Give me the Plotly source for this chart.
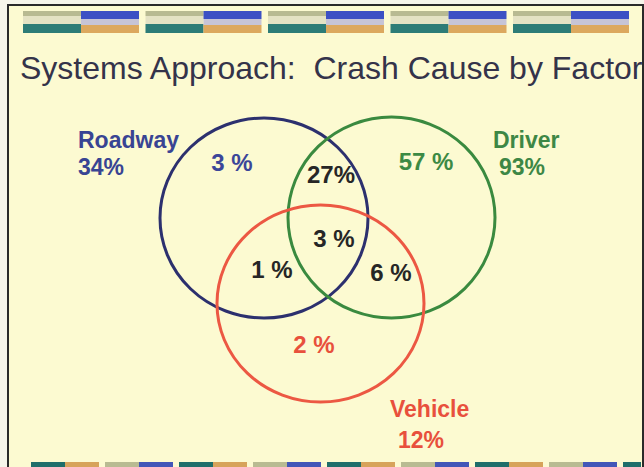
import plotly.graph_objects as go

# ---------------- data ----------------
set_names = ["Roadway", "Driver", "Vehicle"]
set_totals = [34, 93, 12]
region_names = ["Roadway only", "Driver only", "Vehicle only",
                "Roadway & Driver", "Roadway & Vehicle", "Driver & Vehicle", "All three"]
region_values = [3, 57, 2, 27, 1, 6, 3]
region_text = ["3 %", "57 %", "2 %", "27%", "1 %", "6 %", "3 %"]
title_text = "Systems Approach:\u00a0 Crash Cause by Factor"

# ---------------- layout / style (pixel space) ----------------
W, H = 644, 467
FONT = "Liberation Sans, Arial, sans-serif"
BG = "#FCFAD1"

set_colors = ["#2C306E", "#3A8A3F", "#EC5843"]
set_text_colors = ["#384493", "#3D8745", "#E8503C"]
circle_boxes = [(160, 118, 368, 318), (288, 117, 495, 318), (217, 205, 424, 402)]
set_label_pos = [((76, 140), (76, 167)), ((491, 140), (497, 167)), ((388, 409), (396, 440))]

region_pos_x = [232, 426, 314, 331, 272, 391, 334]
region_pos_y = [165, 164, 347, 177, 272, 275, 241]
region_colors = ["#3B4699", "#3C8A44", "#E8503C", "#262626", "#262626", "#262626", "#262626"]

fig = go.Figure()

shapes = []
# slide background + frame
shapes.append(dict(type="rect", xref="x", yref="y", x0=8, y0=5, x1=643, y1=470,
                   fillcolor=BG, line=dict(color="#2A2A2A", width=2), layer="below"))

# top banner blocks
block_starts = [23, 145.5, 268, 390.5, 513]
for x0 in block_starts:
    xm = x0 + 58
    x1 = x0 + 116
    for (a, b, y0, y1, c) in [
        (x0, xm, 11, 16, "#B8BA92"),
        (x0, xm, 16, 24, "#E4E2C4"),
        (x0, xm, 24, 33, "#2D7C77"),
        (xm, x1, 11, 19, "#3C50C4"),
        (xm, x1, 19, 25, "#C6C4D6"),
        (xm, x1, 25, 33, "#DCA85E"),
    ]:
        shapes.append(dict(type="rect", xref="x", yref="y", x0=a, x1=b, y0=y0, y1=y1,
                           fillcolor=c, line=dict(width=0), layer="below"))

# bottom strip
strip_colors = ["#1F6E6A", "#D7A35A", "#B9BB92", "#4257B8"]
for s in [31, 179, 327, 475, 623]:
    offs = [0, 34, 74, 108]
    for o, c in zip(offs, strip_colors):
        a = s + o
        b = min(a + 34, 641)
        if a >= 641:
            continue
        shapes.append(dict(type="rect", xref="x", yref="y", x0=a, x1=b, y0=462, y1=468,
                           fillcolor=c, line=dict(width=0), layer="below"))

# venn circles
for (x0, y0, x1, y1), c in zip(circle_boxes, set_colors):
    shapes.append(dict(type="circle", xref="x", yref="y", x0=x0, y0=y0, x1=x1, y1=y1,
                       line=dict(color=c, width=3), fillcolor="rgba(0,0,0,0)"))

# region values
fig.add_trace(go.Scatter(
    x=region_pos_x, y=region_pos_y, mode="text", text=region_text,
    textposition="middle center",
    textfont=dict(family=FONT, size=24, color=region_colors, weight="bold"),
    customdata=region_values, hovertext=region_names, hoverinfo="text",
    showlegend=False))

annotations = []
annotations.append(dict(x=18, y=68, xref="x", yref="y", text=title_text, showarrow=False,
                        xanchor="left", yanchor="middle",
                        font=dict(family=FONT, size=32, color="#34334A")))
for name, total, (p1, p2), c in zip(set_names, set_totals, set_label_pos, set_text_colors):
    annotations.append(dict(x=p1[0], y=p1[1], xref="x", yref="y", text="<b>%s</b>" % name,
                            showarrow=False, xanchor="left", yanchor="middle",
                            font=dict(family=FONT, size=23, color=c)))
    annotations.append(dict(x=p2[0], y=p2[1], xref="x", yref="y", text="<b>%d%%</b>" % total,
                            showarrow=False, xanchor="left", yanchor="middle",
                            font=dict(family=FONT, size=23, color=c)))

fig.update_layout(
    width=W, height=H, margin=dict(l=0, r=0, t=0, b=0),
    paper_bgcolor="#F6F5EA", plot_bgcolor="rgba(0,0,0,0)",
    xaxis=dict(range=[0, W], visible=False, fixedrange=True),
    yaxis=dict(range=[H, 0], visible=False, fixedrange=True),
    shapes=shapes, annotations=annotations, showlegend=False,
)

fig.write_html("out.html", config={"displayModeBar": False},
               post_script="document.body.style.margin='0';document.body.style.overflow='hidden';")
